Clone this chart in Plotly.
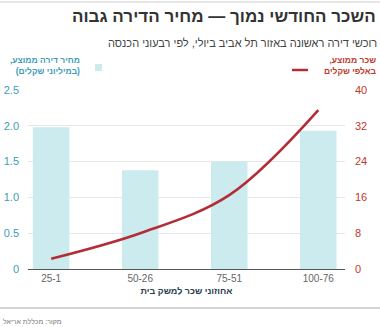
import plotly.graph_objects as go

categories = ["25-1", "50-26", "75-51", "100-76"]
apartment_price = [1.98, 1.38, 1.5, 1.93]      # million NIS (left axis, bars)
monthly_wage = [2.3, 8.0, 16.5, 35.5]          # thousand NIS (right axis, line)
left_ticks = [0, 0.5, 1.0, 1.5, 2.0, 2.5]
left_ticktext = ["0", "0.5", "1.0", "1.5", "2.0", "2.5"]
right_ticks = [0, 8, 16, 24, 32, 40]

W, H = 380, 327
ML, MR, MT, MB = 28, 35, 90, 58
PW, PH = W - ML - MR, H - MT - MB

def px(x):
    return (x - ML) / PW

def py(y):
    return (H - MB - y) / PH

FONT = "Liberation Sans, DejaVu Sans, Arial, sans-serif"
TEAL = "#3e9db8"
RED = "#c0392b"
BAR = "#cbebef"
LINE = "#b32d36"

fig = go.Figure()
fig.add_trace(go.Bar(
    x=categories, y=apartment_price, marker=dict(color=BAR, line=dict(width=0)),
    width=0.41, yaxis="y", showlegend=False, hoverinfo="skip"))
fig.add_trace(go.Scatter(
    x=categories, y=monthly_wage, mode="lines", line=dict(color=LINE, width=2.6, shape="spline", smoothing=1.0),
    yaxis="y2", showlegend=False, hoverinfo="skip"))

fig.update_layout(
    width=W, height=H, margin=dict(l=ML, r=MR, t=MT, b=MB, autoexpand=False),
    paper_bgcolor="white", plot_bgcolor="white",
    font=dict(family=FONT),
    xaxis=dict(type="category", range=[-0.26, 3.3], showgrid=False, showline=True, automargin=False,
               linecolor="#555", linewidth=1.3, ticks="", tickfont=dict(size=10, color="#666"),
               title=dict(text="<b>אחוזוני שכר למשק בית</b>", font=dict(size=9, color="#2b3e50"), standoff=4)),
    yaxis=dict(range=[0, 2.5], tickvals=left_ticks, ticktext=left_ticktext, showgrid=True, automargin=False,
               gridcolor="#e6e6e6", gridwidth=1, zeroline=False, ticks="",
               tickfont=dict(size=11, color=TEAL), ticklabelstandoff=8),
    yaxis2=dict(range=[0, 40], tickvals=right_ticks, overlaying="y", side="right", showgrid=False, automargin=False,
                zeroline=False, ticks="", tickfont=dict(size=11, color=RED), ticklabelstandoff=9),
    bargap=0.5,
)

ann = []
ann.append(dict(text="<b>השכר החודשי נמוך — מחיר הדירה גבוה</b>", x=px(378), y=py(17),
                xanchor="right", yanchor="middle", font=dict(size=17, color="#333")))
ann.append(dict(text="רוכשי דירה ראשונה באזור תל אביב ביולי, לפי רבעוני הכנסה", x=px(379), y=py(43),
                xanchor="right", yanchor="middle", font=dict(size=11, color="#444")))
ann.append(dict(text="<b>מחיר דירה ממוצע,\u200f<br>\u200f(במיליוני שקלים)\u200f</b>", x=px(82), y=py(66),
                xanchor="right", yanchor="middle", align="right", font=dict(size=8.5, color=TEAL)))
ann.append(dict(text="<b>שכר ממוצע,\u200f<br>באלפי שקלים</b>", x=px(379), y=py(66),
                xanchor="right", yanchor="middle", align="right", font=dict(size=8.5, color=RED)))
ann.append(dict(text="מקור: מכללת אריאל", x=px(1), y=py(321),
                xanchor="left", yanchor="middle", font=dict(size=7, color="#777")))
for a in ann:
    a.update(xref="paper", yref="paper", showarrow=False)
fig.update_layout(annotations=ann)

shapes = [
    dict(type="rect", x0=px(95), x1=px(102), y0=py(71), y1=py(64), fillcolor=BAR, line=dict(width=0)),
    dict(type="line", x0=px(292), x1=px(308), y0=py(70), y1=py(70), line=dict(color=LINE, width=2.5)),
    dict(type="line", x0=px(0), x1=px(380), y0=py(308), y1=py(308), line=dict(color="#aaa", width=1)),
    dict(type="line", x0=px(0), x1=px(380), y0=py(2), y1=py(2), line=dict(color="#ccc", width=1)),
]
for s in shapes:
    s.update(xref="paper", yref="paper")
fig.update_layout(shapes=shapes)

fig.write_html("out.html", config={"displayModeBar": False},
               post_script="document.body.style.margin='0';document.body.style.overflow='hidden';")
